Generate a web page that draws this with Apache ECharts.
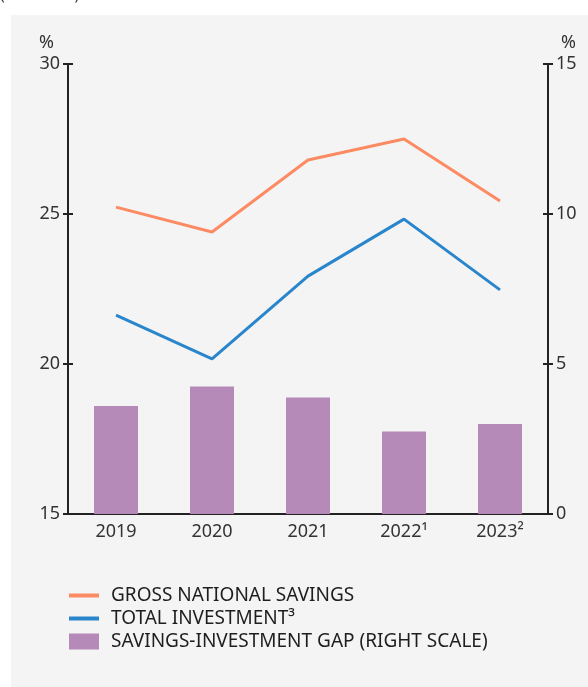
<!DOCTYPE html>
<html>
<head>
<meta charset="utf-8">
<script src="https://cdn.jsdelivr.net/npm/echarts@6/dist/echarts.min.js"></script>
<style>
  html, body { margin: 0; padding: 0; background: #fff; }
  #chart { width: 588px; height: 687px; }
</style>
</head>
<body>
<div id="chart"></div>
<script>
// data
var years = ['2019', '2020', '2021', '2022¹', '2023²']
var grossSavings = [25.23, 24.4, 26.8, 27.5, 25.43]
var totalInvestment = [21.63, 20.17, 22.93, 24.83, 22.47]
var savingsGap = [3.6, 4.25, 3.88, 2.75, 3.0]

var myChart = echarts.init(document.getElementById('chart'))

var font = 'Noto Sans'
var axisColor = '#222'
var textColor = '#333'

// shared y-axis look
function yAxisBase(pos, min, max, interval, inside, showLabel) {
  return {
    type: 'value',
    position: pos,
    min: min,
    max: max,
    interval: interval,
    splitLine: { show: false },
    axisLine: { show: true, lineStyle: { color: axisColor, width: 2 } },
    axisTick: { show: true, inside: inside, length: 5, lineStyle: { color: axisColor, width: 2 } },
    axisLabel: { show: showLabel, color: textColor, fontFamily: font, fontSize: 18, margin: 8 }
  }
}

var left = yAxisBase('left', 15, 30, 5, false, true)
left.name = '%'
left.nameGap = 12
left.nameTextStyle = { color: textColor, fontFamily: font, fontSize: 18, align: 'right', padding: [0, 14, 0, 0] }
var right = yAxisBase('right', 0, 15, 5, false, true)
right.name = '%'
right.nameGap = 12
right.nameTextStyle = { color: textColor, fontFamily: font, fontSize: 18, align: 'left', padding: [0, 0, 0, 13] }

var lineIcon = 'path://M0,0L30,0L30,4L0,4Z'

var option = {
  backgroundColor: '#fff',
  animation: false,
  graphic: [
    { type: 'rect', left: 11, top: 15, shape: { width: 577, height: 672 }, style: { fill: '#f4f4f4' }, z: -10 },
    { type: 'text', left: 0, top: -13, style: { text: '(% of GDP)', fill: textColor, font: '16px "Noto Sans"' } }
  ],
  grid: { left: 68, right: 40, top: 64, bottom: 173 },
  xAxis: {
    type: 'category',
    data: years,
    axisLine: { show: true, lineStyle: { color: axisColor, width: 2 } },
    axisTick: { show: false },
    axisLabel: { color: textColor, fontFamily: font, fontSize: 18, margin: 9 }
  },
  yAxis: [left, right,
    yAxisBase('left', 15, 30, 5, true, false),
    yAxisBase('right', 0, 15, 5, true, false)
  ],
  legend: {
    orient: 'vertical',
    left: 69,
    top: 586,
    padding: 0,
    itemWidth: 30,
    itemHeight: 16,
    itemGap: 4,
    textStyle: { color: '#1e1e1e', fontFamily: font, fontSize: 19, padding: [0, 0, 0, 7] },
    data: [
      { name: 'GROSS NATIONAL SAVINGS', icon: lineIcon },
      { name: 'TOTAL INVESTMENT³', icon: lineIcon },
      { name: 'SAVINGS-INVESTMENT GAP (RIGHT SCALE)', icon: 'rect' }
    ]
  },
  series: [
    {
      name: 'SAVINGS-INVESTMENT GAP (RIGHT SCALE)',
      type: 'bar',
      yAxisIndex: 1,
      barWidth: 44,
      itemStyle: { color: '#b589b8' },
      data: savingsGap,
      z: 1
    },
    {
      name: 'GROSS NATIONAL SAVINGS',
      type: 'line',
      yAxisIndex: 0,
      symbol: 'none',
      lineStyle: { color: '#fc8b63', width: 3 },
      itemStyle: { color: '#fc8b63' },
      data: grossSavings,
      z: 3
    },
    {
      name: 'TOTAL INVESTMENT³',
      type: 'line',
      yAxisIndex: 0,
      symbol: 'none',
      lineStyle: { color: '#2a86cc', width: 3 },
      itemStyle: { color: '#2a86cc' },
      data: totalInvestment,
      z: 3
    }
  ]
}

myChart.setOption(option)
</script>
</body>
</html>
